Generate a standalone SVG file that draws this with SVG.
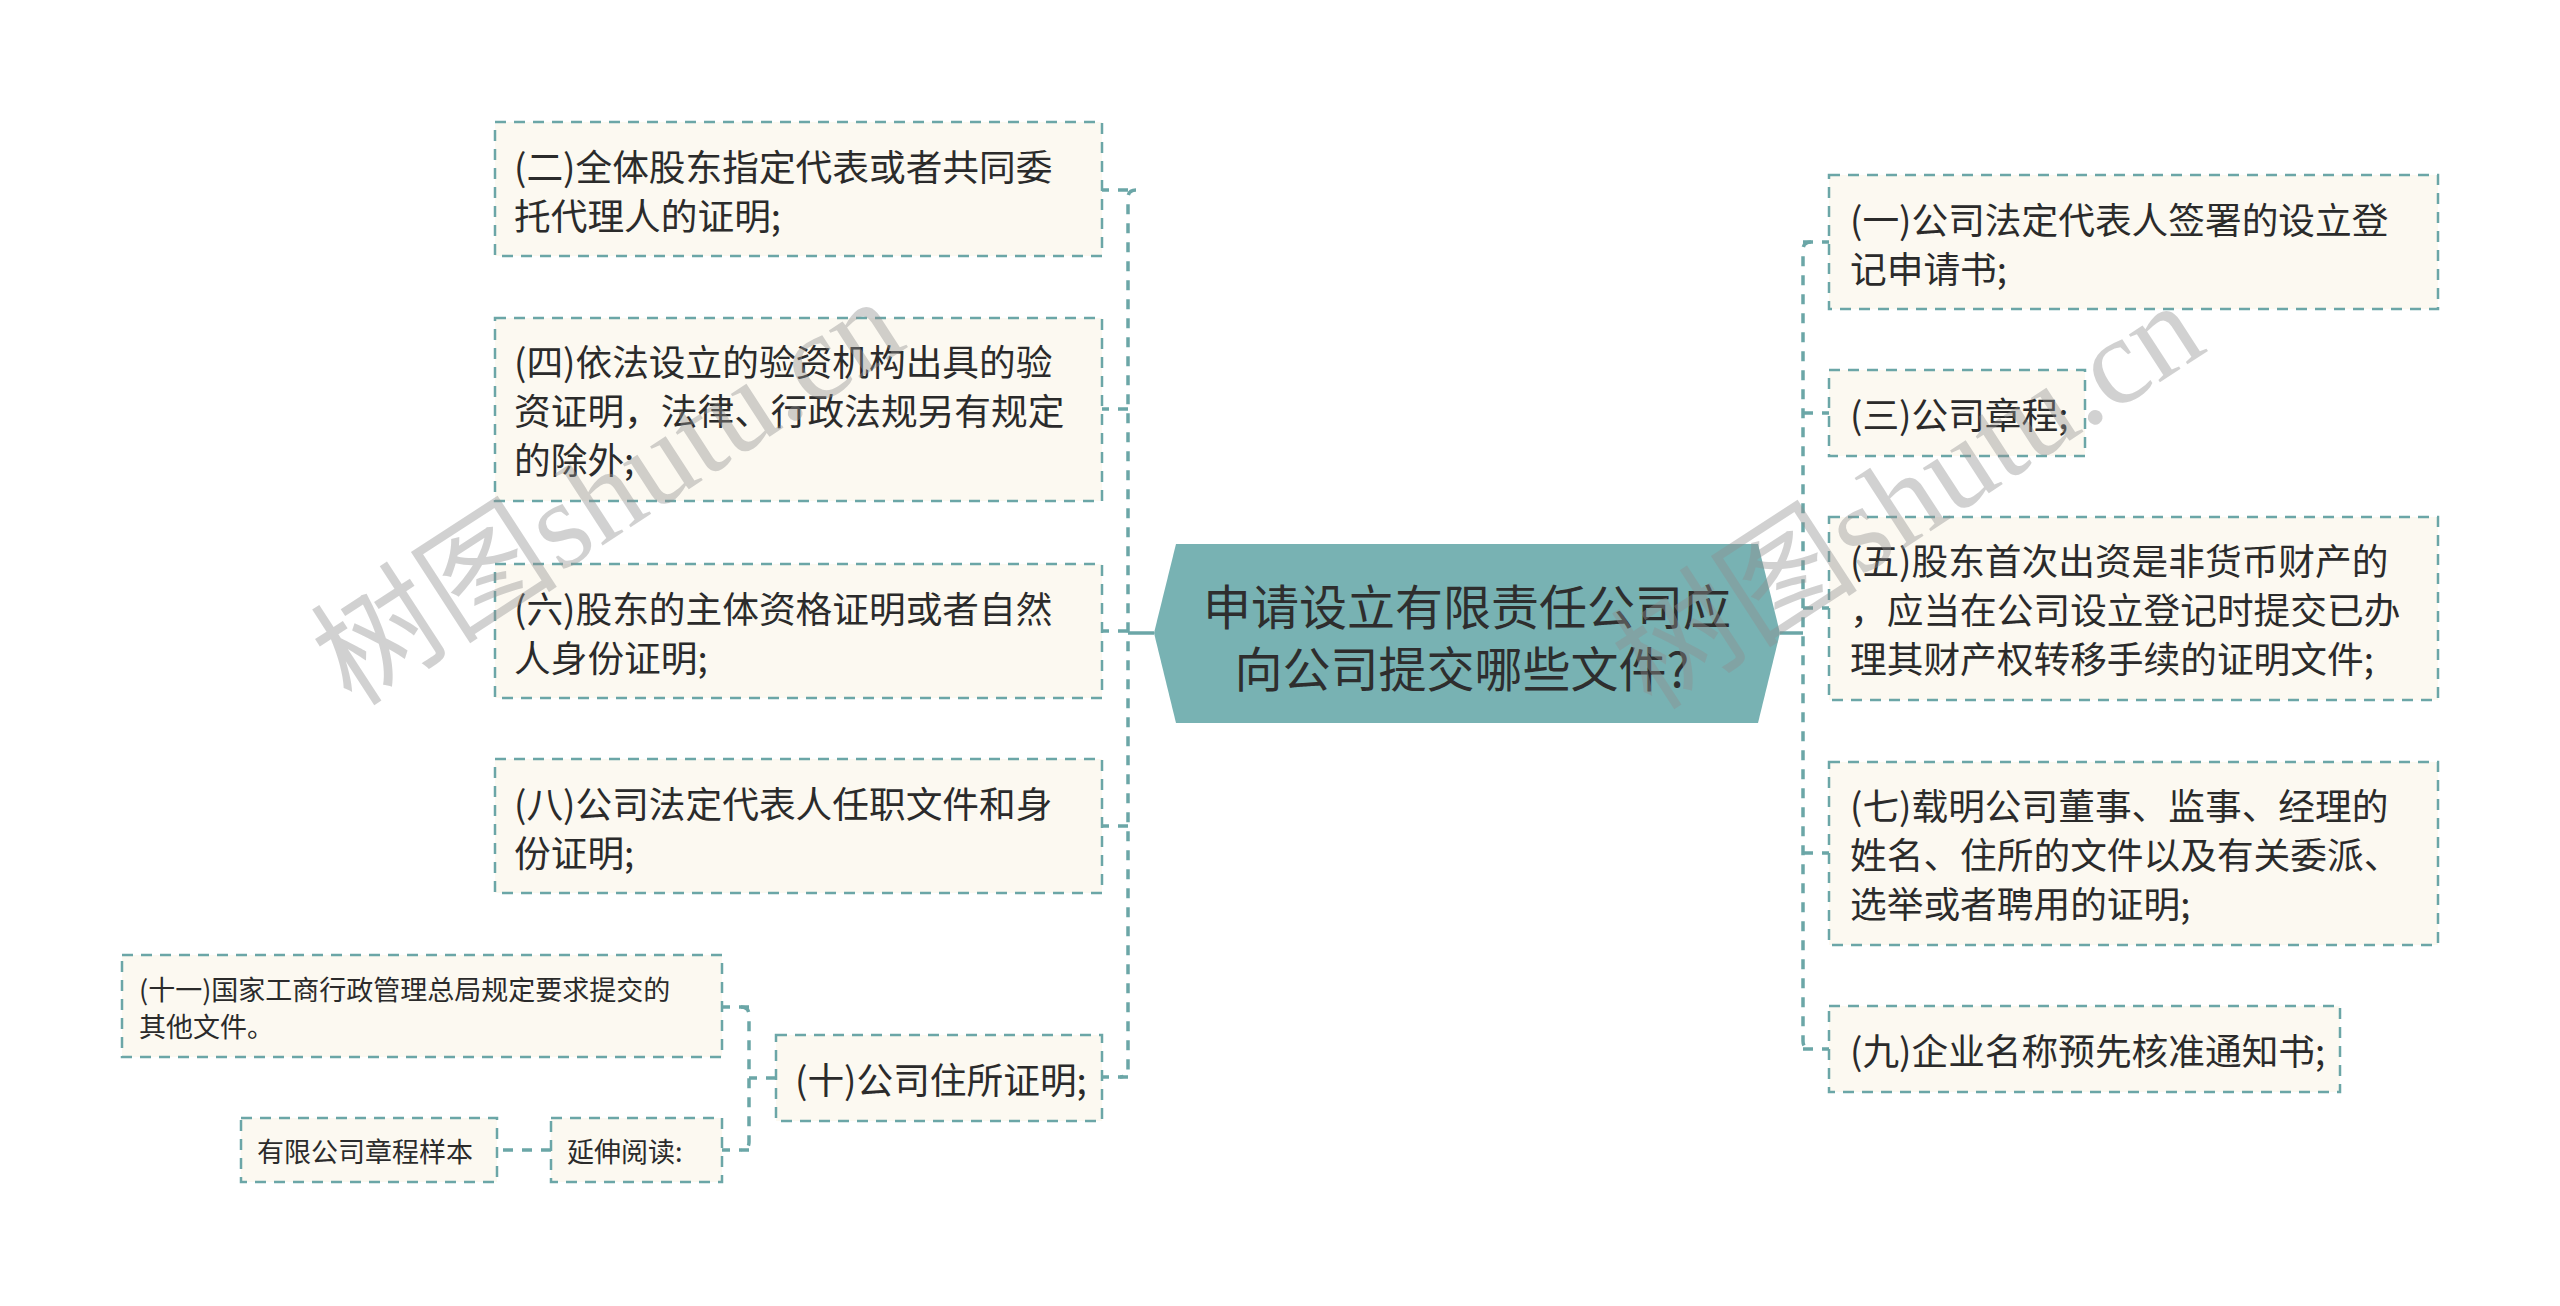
<svg xmlns="http://www.w3.org/2000/svg" width="2560" height="1306" viewBox="0 0 2560 1306">
<style>
.box{fill:#fcf9f1;stroke:#6ba6a7;stroke-width:2.5;stroke-dasharray:11 8}
.t{font-family:"Noto Sans CJK SC","Noto Sans",sans-serif;font-size:36.7px;fill:#2b2b2b;dominant-baseline:central}
.s{font-size:27px}
.ct{font-family:"Noto Sans CJK SC","Noto Sans",sans-serif;font-size:48px;fill:#2e2e2e;dominant-baseline:central;text-anchor:middle}
.c{fill:none;stroke:#6ba6a7;stroke-width:3.5;stroke-dasharray:10 9}
.solid{fill:none;stroke:#6ba6a7;stroke-width:3.5}
.wm{font-size:124px;fill:#8f8f8f;opacity:0.4}
</style>
<rect width="2560" height="1306" fill="#ffffff"/>
<g id="connectors">
<path class="solid" d="M1154,633 H1128"/>
<path class="solid" d="M1780,633 H1803"/>
<path class="c" d="M1136,190 Q1128,190 1128,198 V1069 Q1128,1077 1120,1077"/>
<path class="c" d="M1128,190 H1102"/>
<path class="c" d="M1128,409 H1102"/>
<path class="c" d="M1128,631 H1102"/>
<path class="c" d="M1128,826 H1102"/>
<path class="c" d="M1128,1077 H1102"/>
<path class="c" d="M1811,242 Q1803,242 1803,250 V1041 Q1803,1049 1811,1049"/>
<path class="c" d="M1803,242 H1829"/>
<path class="c" d="M1803,413 H1829"/>
<path class="c" d="M1803,608 H1829"/>
<path class="c" d="M1803,853 H1829"/>
<path class="c" d="M1803,1049 H1829"/>
<path class="c" d="M776,1078 H749"/>
<path class="c" d="M741,1007 Q749,1007 749,1015 V1142 Q749,1150 741,1150"/>
<path class="c" d="M749,1007 H722"/>
<path class="c" d="M749,1150 H722"/>
<path class="c" d="M551,1150 H497"/>
</g>
<g id="center">
<polygon points="1176,544 1758,544 1780,633 1758,723 1176,723 1154,633" fill="#78b2b3"/>
<text class="ct" x="1467" y="604">申请设立有限责任公司应</text>
<text class="ct" x="1462" y="666">向公司提交哪些文件?</text>
</g>
<g id="n2">
<rect class="box" x="495" y="122" width="607" height="134"/>
<text class="t" x="514" y="165">(二)全体股东指定代表或者共同委</text>
<text class="t" x="514" y="214">托代理人的证明;</text>
</g>
<g id="n4">
<rect class="box" x="495" y="318" width="607" height="183"/>
<text class="t" x="514" y="360">(四)依法设立的验资机构出具的验</text>
<text class="t" x="514" y="409">资证明，法律、行政法规另有规定</text>
<text class="t" x="514" y="458">的除外;</text>
</g>
<g id="n6">
<rect class="box" x="495" y="564" width="607" height="134"/>
<text class="t" x="514" y="607">(六)股东的主体资格证明或者自然</text>
<text class="t" x="514" y="656">人身份证明;</text>
</g>
<g id="n8">
<rect class="box" x="495" y="759" width="607" height="134"/>
<text class="t" x="514" y="802">(八)公司法定代表人任职文件和身</text>
<text class="t" x="514" y="851">份证明;</text>
</g>
<g id="n10">
<rect class="box" x="776" y="1035" width="326" height="86"/>
<text class="t" x="795" y="1078">(十)公司住所证明;</text>
</g>
<g id="n11">
<rect class="box" x="122" y="955" width="600" height="102"/>
<text class="t s" x="139" y="988">(十一)国家工商行政管理总局规定要求提交的</text>
<text class="t s" x="139" y="1025">其他文件。</text>
</g>
<g id="nread">
<rect class="box" x="551" y="1118" width="171" height="64"/>
<text class="t s" x="567" y="1150">延伸阅读:</text>
</g>
<g id="nsample">
<rect class="box" x="241" y="1118" width="256" height="64"/>
<text class="t s" x="257" y="1150">有限公司章程样本</text>
</g>
<g id="n1">
<rect class="box" x="1829" y="175" width="609" height="134"/>
<text class="t" x="1850" y="218">(一)公司法定代表人签署的设立登</text>
<text class="t" x="1850" y="267">记申请书;</text>
</g>
<g id="n3">
<rect class="box" x="1829" y="370" width="256" height="86"/>
<text class="t" x="1850" y="413">(三)公司章程;</text>
</g>
<g id="n5">
<rect class="box" x="1829" y="517" width="609" height="183"/>
<text class="t" x="1850" y="559">(五)股东首次出资是非货币财产的</text>
<text class="t" x="1850" y="608">，应当在公司设立登记时提交已办</text>
<text class="t" x="1850" y="657">理其财产权转移手续的证明文件;</text>
</g>
<g id="n7">
<rect class="box" x="1829" y="762" width="609" height="183"/>
<text class="t" x="1850" y="804">(七)载明公司董事、监事、经理的</text>
<text class="t" x="1850" y="853">姓名、住所的文件以及有关委派、</text>
<text class="t" x="1850" y="902">选举或者聘用的证明;</text>
</g>
<g id="n9">
<rect class="box" x="1829" y="1006" width="511" height="86"/>
<text class="t" x="1850" y="1049">(九)企业名称预先核准通知书;</text>
</g>
<g id="watermark">
<text class="wm" transform="translate(352,708) rotate(-33)"><tspan font-family="Noto Sans CJK SC,sans-serif">树图</tspan><tspan font-family="Liberation Serif,serif">shutu.cn</tspan></text>
<text class="wm" transform="translate(1652,712) rotate(-33)"><tspan font-family="Noto Sans CJK SC,sans-serif">树图</tspan><tspan font-family="Liberation Serif,serif">shutu.cn</tspan></text>
</g>
</svg>
